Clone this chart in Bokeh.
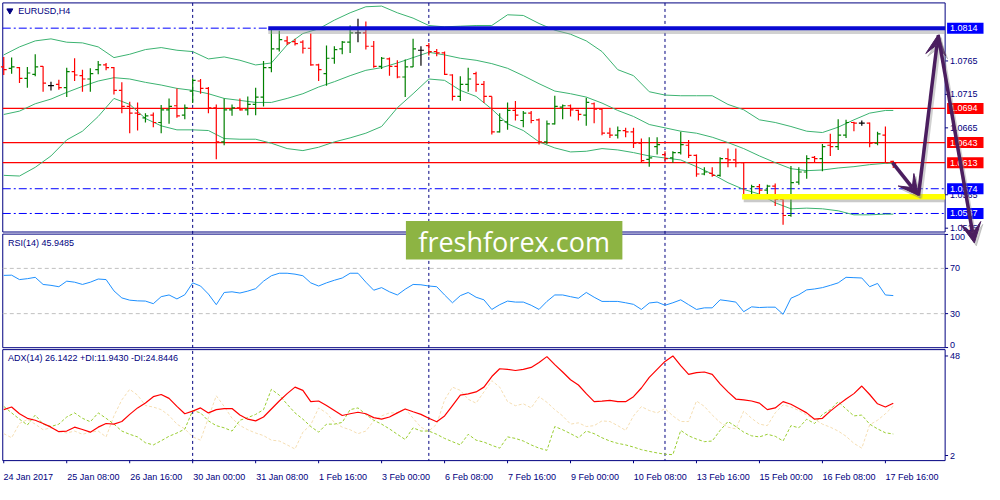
from bokeh.plotting import figure
from bokeh.models import Range1d, FixedTicker, ColumnDataSource, Arrow, VeeHead
from bokeh.core.properties import value
from bokeh.embed import file_html
from bokeh.resources import INLINE

# ---------------------------------------------------------------- data
SYMBOL = "EURUSD,H4"
WATERMARK = "freshforex.com"

time_labels = ["24 Jan 2017", "25 Jan 08:00", "26 Jan 16:00", "30 Jan 00:00",
               "31 Jan 08:00", "1 Feb 16:00", "3 Feb 00:00", "6 Feb 08:00",
               "7 Feb 16:00", "9 Feb 00:00", "10 Feb 08:00", "13 Feb 16:00",
               "15 Feb 00:00", "16 Feb 08:00", "17 Feb 16:00"]
time_label_bars = [0, 8, 16, 24, 32, 40, 48, 56, 64, 72, 80, 88, 96, 104, 112]
week_start_bars = [24, 54, 84]

bar_open = [
    1.0756, 1.0754, 1.0755, 1.0739, 1.0745, 1.0757, 1.0728, 1.0730, 1.0725, 1.0749,
    1.0743, 1.0738, 1.0752, 1.0759, 1.0755, 1.0721, 1.0697, 1.0687, 1.0680, 1.0684,
    1.0673, 1.0692, 1.0698, 1.0684, 1.0720, 1.0735, 1.0724, 1.0695, 1.0644, 1.0692,
    1.0695, 1.0692, 1.0700, 1.0711, 1.0755, 1.0783, 1.0795, 1.0794, 1.0793, 1.0784,
    1.0759, 1.0746, 1.0769, 1.0783, 1.0793, 1.0807, 1.0807, 1.0787, 1.0757, 1.0768,
    1.0757, 1.0741, 1.0756, 1.0781, 1.0788, 1.0779, 1.0777, 1.0744, 1.0712, 1.0730,
    1.0746, 1.0730, 1.0712, 1.0659, 1.0674, 1.0691, 1.0676, 1.0687, 1.0677, 1.0644,
    1.0671, 1.0696, 1.0698, 1.0691, 1.0684, 1.0701, 1.0693, 1.0657, 1.0654, 1.0661,
    1.0659, 1.0642, 1.0618, 1.0637, 1.0625, 1.0620, 1.0628, 1.0639, 1.0624, 1.0596,
    1.0597, 1.0594, 1.0619, 1.0617, 1.0613, 1.0565, 1.0577, 1.0572, 1.0578, 1.0558,
    1.0534, 1.0584, 1.0599, 1.0621, 1.0619, 1.0639, 1.0637, 1.0654, 1.0673, 1.0672,
    1.0672, 1.0642, 1.0654, 1.0615]
bar_high = [
    1.0771, 1.0770, 1.0756, 1.0756, 1.0775, 1.0757, 1.0734, 1.0737, 1.0755, 1.0769,
    1.0752, 1.0754, 1.0765, 1.0762, 1.0756, 1.0733, 1.0704, 1.0703, 1.0687, 1.0688,
    1.0699, 1.0709, 1.0724, 1.0700, 1.0739, 1.0738, 1.0726, 1.0700, 1.0709, 1.0700,
    1.0709, 1.0712, 1.0725, 1.0765, 1.0813, 1.0810, 1.0802, 1.0798, 1.0796, 1.0806,
    1.0761, 1.0788, 1.0787, 1.0795, 1.0818, 1.0828, 1.0824, 1.0795, 1.0771, 1.0770,
    1.0766, 1.0767, 1.0798, 1.0787, 1.0792, 1.0783, 1.0779, 1.0745, 1.0742, 1.0755,
    1.0749, 1.0735, 1.0712, 1.0687, 1.0703, 1.0705, 1.0690, 1.0690, 1.0679, 1.0676,
    1.0713, 1.0700, 1.0700, 1.0692, 1.0710, 1.0703, 1.0693, 1.0665, 1.0667, 1.0665,
    1.0665, 1.0649, 1.0651, 1.0651, 1.0630, 1.0630, 1.0659, 1.0647, 1.0625, 1.0606,
    1.0606, 1.0621, 1.0634, 1.0634, 1.0614, 1.0580, 1.0581, 1.0580, 1.0582, 1.0560,
    1.0608, 1.0606, 1.0624, 1.0623, 1.0641, 1.0656, 1.0678, 1.0677, 1.0674, 1.0676,
    1.0673, 1.0659, 1.0667, 1.0616]
bar_low = [
    1.0744, 1.0746, 1.0732, 1.0725, 1.0742, 1.0719, 1.0721, 1.0722, 1.0711, 1.0735,
    1.0719, 1.0719, 1.0745, 1.0751, 1.0715, 1.0687, 1.0657, 1.0661, 1.0673, 1.0666,
    1.0657, 1.0671, 1.0680, 1.0678, 1.0702, 1.0716, 1.0687, 1.0618, 1.0639, 1.0683,
    1.0691, 1.0684, 1.0684, 1.0697, 1.0748, 1.0779, 1.0789, 1.0788, 1.0776, 1.0758,
    1.0735, 1.0728, 1.0761, 1.0775, 1.0777, 1.0793, 1.0782, 1.0755, 1.0753, 1.0743,
    1.0739, 1.0711, 1.0756, 1.0758, 1.0773, 1.0772, 1.0744, 1.0706, 1.0705, 1.0719,
    1.0719, 1.0702, 1.0655, 1.0658, 1.0662, 1.0676, 1.0666, 1.0672, 1.0640, 1.0641,
    1.0670, 1.0678, 1.0682, 1.0676, 1.0668, 1.0672, 1.0654, 1.0650, 1.0649, 1.0651,
    1.0635, 1.0613, 1.0607, 1.0625, 1.0616, 1.0613, 1.0625, 1.0620, 1.0592, 1.0594,
    1.0592, 1.0592, 1.0606, 1.0606, 1.0560, 1.0562, 1.0563, 1.0565, 1.0548, 1.0520,
    1.0532, 1.0580, 1.0589, 1.0613, 1.0600, 1.0623, 1.0632, 1.0650, 1.0660, 1.0668,
    1.0636, 1.0639, 1.0613, 1.0605]
bar_close = [
    1.0752, 1.0756, 1.0739, 1.0747, 1.0756, 1.0732, 1.0728, 1.0725, 1.0749, 1.0744,
    1.0738, 1.0746, 1.0759, 1.0755, 1.0721, 1.0697, 1.0687, 1.0685, 1.0683, 1.0673,
    1.0692, 1.0697, 1.0683, 1.0695, 1.0736, 1.0724, 1.0695, 1.0644, 1.0692, 1.0695,
    1.0692, 1.0700, 1.0711, 1.0755, 1.0783, 1.0797, 1.0792, 1.0791, 1.0784, 1.0759,
    1.0752, 1.0769, 1.0782, 1.0793, 1.0807, 1.0807, 1.0787, 1.0757, 1.0769, 1.0757,
    1.0741, 1.0756, 1.0783, 1.0781, 1.0779, 1.0777, 1.0745, 1.0712, 1.0730, 1.0738,
    1.0730, 1.0712, 1.0659, 1.0676, 1.0691, 1.0684, 1.0687, 1.0676, 1.0644, 1.0671,
    1.0697, 1.0698, 1.0692, 1.0685, 1.0703, 1.0693, 1.0657, 1.0654, 1.0661, 1.0659,
    1.0642, 1.0616, 1.0620, 1.0640, 1.0619, 1.0628, 1.0640, 1.0624, 1.0596, 1.0599,
    1.0594, 1.0619, 1.0617, 1.0613, 1.0565, 1.0577, 1.0572, 1.0578, 1.0558, 1.0534,
    1.0583, 1.0599, 1.0619, 1.0619, 1.0637, 1.0637, 1.0654, 1.0673, 1.0672, 1.0672,
    1.0642, 1.0656, 1.0613, 1.0612]

# Bollinger bands, read every second bar
bb_bars = [0, 2, 4, 6, 8, 10, 12, 14, 16, 18, 20, 22, 24, 26, 28, 30, 32, 34, 36, 38,
           40, 42, 44, 46, 48, 50, 52, 54, 56, 58, 60, 62, 64, 66, 68, 70, 72, 74, 76, 78,
           80, 82, 84, 86, 88, 90, 92, 94, 96, 98, 100, 102, 104, 106, 108, 110, 112, 113]
bb_upper = [
    1.0774, 1.0786, 1.0795, 1.0798, 1.0793, 1.0792, 1.0786, 1.0770, 1.0775, 1.0782,
    1.0785, 1.0781, 1.0779, 1.0768, 1.0771, 1.0766, 1.0759, 1.0762, 1.0789, 1.0806,
    1.0813, 1.0826, 1.0837, 1.0846, 1.0847, 1.0837, 1.0829, 1.0818, 1.0816, 1.0817,
    1.0818, 1.0818, 1.0834, 1.0833, 1.0821, 1.0811, 1.0805, 1.0795, 1.0779, 1.0752,
    1.0743, 1.0719, 1.0714, 1.0713, 1.0713, 1.0713, 1.0700, 1.0692, 1.0677, 1.0673,
    1.0667, 1.0660, 1.0658, 1.0666, 1.0677, 1.0687, 1.0691, 1.0691]
bb_middle = [
    1.0685, 1.0690, 1.0701, 1.0708, 1.0718, 1.0727, 1.0735, 1.0740, 1.0738, 1.0733,
    1.0729, 1.0724, 1.0721, 1.0716, 1.0709, 1.0706, 1.0703, 1.0703, 1.0709, 1.0716,
    1.0726, 1.0734, 1.0743, 1.0751, 1.0755, 1.0762, 1.0770, 1.0778, 1.0774, 1.0769,
    1.0766, 1.0761, 1.0754, 1.0743, 1.0731, 1.0720, 1.0716, 1.0711, 1.0702, 1.0691,
    1.0682, 1.0670, 1.0665, 1.0660, 1.0657, 1.0651, 1.0643, 1.0634, 1.0623, 1.0613,
    1.0604, 1.0601, 1.0602, 1.0605, 1.0607, 1.0610, 1.0612, 1.0612]
bb_lower = [
    1.0594, 1.0593, 1.0606, 1.0623, 1.0647, 1.0660, 1.0682, 1.0709, 1.0700, 1.0679,
    1.0668, 1.0662, 1.0662, 1.0661, 1.0649, 1.0648, 1.0648, 1.0642, 1.0634, 1.0631,
    1.0636, 1.0644, 1.0650, 1.0657, 1.0667, 1.0695, 1.0716, 1.0738, 1.0736, 1.0721,
    1.0712, 1.0693, 1.0671, 1.0661, 1.0644, 1.0635, 1.0629, 1.0630, 1.0634, 1.0632,
    1.0628, 1.0623, 1.0620, 1.0617, 1.0607, 1.0596, 1.0583, 1.0573, 1.0566, 1.0553,
    1.0544, 1.0545, 1.0544, 1.0541, 1.0535, 1.0535, 1.0536, 1.0536]

rsi_values = [
    63.8, 64.0, 60.1, 60.9, 62.1, 55.8, 55.0, 53.8, 58.7, 57.8,
    55.8, 57.8, 60.6, 60.1, 50.1, 43.9, 41.9, 41.3, 41.1, 38.8,
    45.0, 46.5, 43.0, 46.7, 57.2, 54.4, 47.3, 37.9, 48.7, 49.3,
    48.2, 49.9, 52.1, 58.7, 63.5, 65.7, 65.7, 64.9, 63.5, 57.2,
    54.4, 57.2, 59.5, 61.5, 65.7, 65.7, 57.8, 50.7, 53.0, 49.3,
    46.5, 51.6, 55.8, 55.5, 54.4, 53.8, 46.5, 39.6, 45.9, 48.7,
    44.5, 42.2, 33.7, 37.9, 41.1, 40.2, 40.2, 37.4, 33.7, 40.8,
    46.5, 46.5, 45.0, 43.6, 48.7, 44.5, 40.8, 40.8, 40.8, 39.6,
    38.2, 33.7, 39.4, 40.2, 37.4, 39.6, 42.2, 37.9, 33.7, 35.1,
    35.1, 42.2, 41.3, 40.2, 31.7, 36.0, 35.4, 35.7, 35.7, 29.4,
    43.6, 46.7, 51.0, 51.8, 53.0, 55.0, 57.2, 62.1, 61.8, 61.5,
    53.8, 56.7, 46.5, 45.9485]
rsi_period = 14

adx_values = [
    23.2, 24.4, 21.3, 19.2, 18.3, 16.8, 15.1, 13.0, 13.3, 15.1,
    14.0, 12.8, 15.1, 16.8, 16.5, 17.7, 21.0, 24.0, 26.3, 29.2,
    30.2, 28.4, 24.7, 21.3, 22.5, 24.0, 21.7, 23.2, 23.7, 23.7,
    20.7, 18.8, 18.0, 19.8, 23.5, 27.2, 30.6, 33.6, 32.1, 26.9,
    27.2, 25.1, 22.8, 20.5, 21.3, 22.0, 21.3, 19.5, 18.8, 19.8,
    21.7, 23.5, 22.2, 21.0, 19.2, 17.6, 20.3, 25.1, 29.9, 30.5,
    31.4, 33.6, 38.5, 42.1, 41.8, 41.3, 41.8, 42.7, 45.0, 47.7,
    44.0, 40.6, 37.0, 34.6, 30.6, 26.9, 27.1, 27.5, 26.9, 26.9,
    29.2, 33.2, 38.1, 41.8, 45.5, 48.0, 43.5, 39.5, 40.3, 40.6,
    39.5, 35.1, 31.4, 28.1, 27.7, 27.2, 26.2, 23.2, 24.0, 26.9,
    25.7, 23.7, 21.7, 18.8, 19.2, 22.5, 25.4, 28.1, 30.6, 34.1,
    30.2, 25.9, 24.4, 26.1422]
plus_di_values = [
    24.7, 21.7, 18.8, 16.1, 20.7, 16.5, 15.4, 16.5, 19.8, 21.7,
    19.2, 17.6, 21.7, 19.2, 16.5, 13.3, 11.8, 10.6, 7.9, 6.9,
    8.8, 10.9, 12.4, 14.2, 22.8, 21.7, 18.0, 15.8, 14.8, 13.3,
    18.3, 19.5, 21.0, 23.2, 32.6, 29.9, 25.7, 21.7, 18.8, 15.4,
    12.8, 16.5, 16.5, 17.3, 23.2, 24.0, 21.0, 18.3, 16.5, 14.3,
    11.8, 9.4, 14.8, 13.3, 13.3, 11.8, 9.9, 8.4, 6.9, 11.8,
    9.1, 8.2, 6.7, 5.4, 10.6, 9.9, 8.7, 6.9, 5.4, 4.4,
    15.4, 13.9, 12.1, 10.2, 13.3, 12.1, 10.2, 8.7, 7.6, 6.9,
    5.9, 4.7, 3.9, 3.2, 2.6, 2.4, 13.6, 11.1, 9.6, 8.4,
    8.7, 13.6, 17.7, 15.4, 12.8, 11.1, 10.6, 11.8, 10.9, 8.7,
    15.8, 14.8, 18.8, 16.8, 21.0, 23.2, 26.9, 23.5, 20.3, 20.7,
    16.5, 14.3, 12.5, 11.9430]
minus_di_values = [
    12.1, 10.2, 16.8, 18.6, 16.5, 13.9, 14.8, 13.3, 12.4, 13.3,
    11.8, 12.8, 13.3, 10.6, 20.3, 27.7, 32.6, 29.9, 25.1, 24.4,
    23.2, 20.5, 16.5, 14.3, 10.6, 9.1, 19.5, 29.6, 24.7, 19.2,
    15.9, 13.9, 12.4, 11.2, 9.1, 8.7, 6.9, 5.0, 12.8, 16.2,
    24.0, 21.7, 17.3, 15.1, 13.9, 12.1, 13.3, 18.0, 20.3, 21.7,
    21.7, 23.7, 19.2, 15.1, 13.3, 16.5, 27.7, 33.6, 32.1, 28.0,
    26.2, 31.4, 36.6, 33.6, 26.9, 25.0, 25.9, 24.0, 29.2, 26.6,
    23.2, 20.3, 16.5, 17.1, 15.4, 15.8, 18.0, 17.7, 15.8, 13.6,
    20.3, 24.6, 22.8, 21.7, 23.7, 20.3, 17.7, 17.7, 27.2, 24.7,
    20.7, 17.3, 15.1, 14.3, 22.5, 19.2, 16.5, 15.8, 21.7, 25.4,
    24.4, 22.8, 20.7, 18.8, 16.5, 15.1, 13.3, 10.9, 7.6, 5.4,
    16.2, 18.3, 21.3, 24.8446]
adx_period = 14

# price scale and analysis levels
price_ticks = [1.0765, 1.0715, 1.0665, 1.0565, 1.0515]
resistance_level = 1.0814
blue_levels = [1.0814, 1.0574, 1.0537]
red_levels = [1.0694, 1.0643, 1.0613]
target_zone = [1.0558, 1.0566]          # bottom, top
target_zone_start_bar = 93.8
resistance_start_bar = 33.6
arrow_bars = [112.9, 116.2, 118.7, 123.3]
arrow_prices = [1.0613, 1.0564, 1.0804, 1.0493]

rsi_ticks = [100, 70, 30, 0]
rsi_levels = [70, 30]
adx_ticks = [48, 2]

# ---------------------------------------------------------------- layout / style
W, H = 984, 484
REF_W, REF_H = 1000.0, 481.0          # design grid (px of the MT4 screen)
BAR_X0, BAR_DX = 3.3, 8.0             # design x of bar 0, design px per bar
P_REF, P_REF_Y, P_PX = 1.0665, 132.3, 6950.0
RSI_Y100, RSI_PX = 243.05, 1.175
ADX_Y48, ADX_PX = 369.3, 2.2478
PANEL_L, PANEL_R = 2.3, 960.0
PANELS = [(2.5, 240.5), (242.7, 360.7), (362.7, 478.0)]

NAVY = "#000080"
FONT = value("Liberation Sans")
FS = "9px"
GREEN_BAR, RED_BAR, DOJI = "#008000", "#ff0000", "#000000"
BB_COLOR = "#3cb371"
PURPLE = "#4b1e5f"

p = figure(width=W, height=H, output_backend="svg", toolbar_location=None,
           x_range=Range1d(-BAR_X0 / BAR_DX, (REF_W - BAR_X0) / BAR_DX),
           y_range=Range1d(P_REF - (REF_H - P_REF_Y) / P_PX, P_REF + P_REF_Y / P_PX),
           x_axis_location="below", y_axis_location=None,
           min_border_left=0, min_border_right=0, min_border_top=0, min_border_bottom=16)
p.extra_x_ranges = {"px": Range1d(0, REF_W)}
p.extra_y_ranges = {
    "px": Range1d(REF_H, 0),
    "rsi": Range1d(100 - (REF_H - RSI_Y100) / RSI_PX, 100 + RSI_Y100 / RSI_PX),
    "adx": Range1d(48 - (REF_H - ADX_Y48) / ADX_PX, 48 + ADX_Y48 / ADX_PX),
}
p.grid.visible = False
p.outline_line_color = None
p.background_fill_color = "white"
p.border_fill_color = "white"

# bottom time axis (labels drawn left-aligned from their bar, as in MT4)
centers = [round(b + (len(t) * 4.45 / 2 + 0.4) / BAR_DX, 3) for b, t in zip(time_label_bars, time_labels)]
ax = p.xaxis[0]
ax.ticker = FixedTicker(ticks=centers, minor_ticks=[])
ax.major_label_overrides = {c: t for c, t in zip(centers, time_labels)}
ax.axis_line_color = None
ax.major_tick_line_color = None
ax.minor_tick_line_color = None
ax.major_label_standoff = 2
ax.major_label_text_font = "Liberation Sans"
ax.major_label_text_font_size = FS
ax.major_label_text_color = NAVY

txt = dict(text_font=FONT, text_font_size=FS)

# panel frames
p.quad(left=[PANEL_L] * 3, right=[PANEL_R] * 3, top=[a for a, b in PANELS], bottom=[b for a, b in PANELS],
       fill_color=None, line_color=NAVY, line_width=1, x_range_name="px", y_range_name="px")
# time ticks below last panel
p.segment(x0=time_label_bars, x1=time_label_bars, y0=[478.0] * len(time_label_bars),
          y1=[481.0] * len(time_label_bars), line_color=NAVY, line_width=1, y_range_name="px")
# week separators
p.segment(x0=week_start_bars, x1=week_start_bars, y0=[2.5] * 3, y1=[478.0] * 3,
          line_color=NAVY, line_width=1, line_dash="3 3", y_range_name="px")

# --- main panel levels
p.segment(x0=[PANEL_L] * 3, x1=[PANEL_R] * 3, y0=red_levels, y1=red_levels,
          line_color="#ff0000", line_width=1.2, x_range_name="px")
p.segment(x0=[PANEL_L] * 3, x1=[PANEL_R] * 3, y0=blue_levels, y1=blue_levels,
          line_color="#0000ff", line_width=1, line_dash="8 3 2 3", x_range_name="px")

# Bollinger bands
for band in (bb_upper, bb_middle, bb_lower):
    p.line(bb_bars, band, line_color=BB_COLOR, line_width=1)

# OHLC bars
n = len(bar_close)
idx = list(range(n))
colors = [GREEN_BAR if c > o else (RED_BAR if c < o else DOJI) for o, c in zip(bar_open, bar_close)]
src = ColumnDataSource(dict(x=idx, xl=[i - 0.375 for i in idx], xr=[i + 0.375 for i in idx],
                            o=bar_open, h=bar_high, l=bar_low, c=bar_close, col=colors))
p.segment(x0="x", x1="x", y0="l", y1="h", line_color="col", line_width=1.2, source=src)
p.segment(x0="xl", x1="x", y0="o", y1="o", line_color="col", line_width=1.2, source=src)
p.segment(x0="x", x1="xr", y0="c", y1="c", line_color="col", line_width=1.2, source=src)

# thick resistance line with shadow
sh = 3.0 / P_PX
end_bar = (PANEL_R - BAR_X0) / BAR_DX
p.segment(x0=[resistance_start_bar], x1=[end_bar], y0=[resistance_level - sh], y1=[resistance_level - sh],
          line_color="#9a9a9a", line_width=6, line_alpha=0.45)
p.segment(x0=[resistance_start_bar], x1=[end_bar], y0=[resistance_level], y1=[resistance_level],
          line_color="#0a0ad2", line_width=4)

# target zone with shadow
p.quad(left=[target_zone_start_bar + 0.2], right=[end_bar], bottom=[target_zone[0] - sh], top=[target_zone[1] - sh],
       fill_color="#8a8a8a", fill_alpha=0.45, line_color=None)
p.quad(left=[target_zone_start_bar], right=[end_bar], bottom=[target_zone[0]], top=[target_zone[1]],
       fill_color="#ffff00", line_color=None)

# --- RSI panel
p.segment(x0=[PANEL_L] * 2, x1=[PANEL_R] * 2, y0=rsi_levels, y1=rsi_levels,
          line_color="#c0c0c0", line_width=1, line_dash="4 3", x_range_name="px", y_range_name="rsi")
p.line(idx, rsi_values, line_color="#1e90ff", line_width=1, y_range_name="rsi")

# --- ADX panel
p.line(idx, minus_di_values, line_color="#f5deb3", line_width=1, line_dash="3 2", y_range_name="adx")
p.line(idx, plus_di_values, line_color="#9acd32", line_width=1, line_dash="3 2", y_range_name="adx")
p.line(idx, adx_values, line_color="#ff0000", line_width=1.2, y_range_name="adx")

# watermark
p.quad(left=[412], right=[632], top=[229], bottom=[269], fill_color="#8db443", line_color=None,
       x_range_name="px", y_range_name="px")
p.text(x=[522], y=[250], text=[WATERMARK], text_color="white", text_font=value("Open Sans"),
       text_font_size="27px", text_align="center", text_baseline="middle",
       x_range_name="px", y_range_name="px")

# --- right scales
LX = 965.0
p.segment(x0=[PANEL_R] * len(price_ticks), x1=[PANEL_R + 3] * len(price_ticks), y0=price_ticks, y1=price_ticks,
          line_color=NAVY, x_range_name="px")
p.text(x=[LX] * len(price_ticks), y=price_ticks, text=[f"{v:.4f}" for v in price_ticks],
       text_color=NAVY, text_align="left", text_baseline="middle", x_range_name="px", **txt)
hl_prices = blue_levels + red_levels
hl_colors = ["#0000ff"] * len(blue_levels) + ["#ff0000"] * len(red_levels)
p.rect(x=[980.5] * len(hl_prices), y=hl_prices, width=[37] * len(hl_prices), height=11, height_units="screen",
       fill_color=hl_colors, line_color=None, x_range_name="px")
p.text(x=[LX] * len(hl_prices), y=hl_prices, text=[f"{v:.4f}" for v in hl_prices],
       text_color="white", text_align="left", text_baseline="middle", x_range_name="px", **txt)

p.segment(x0=[PANEL_R] * 4, x1=[PANEL_R + 3] * 4, y0=rsi_ticks, y1=rsi_ticks, line_color=NAVY,
          x_range_name="px", y_range_name="rsi")
for v, base in zip(rsi_ticks, ["top", "middle", "middle", "bottom"]):
    p.text(x=[LX], y=[v], text=[str(v)], text_color=NAVY, text_align="left", text_baseline=base,
           x_range_name="px", y_range_name="rsi", **txt)
p.segment(x0=[PANEL_R] * 2, x1=[PANEL_R + 3] * 2, y0=adx_ticks, y1=adx_ticks, line_color=NAVY,
          x_range_name="px", y_range_name="adx")
p.text(x=[LX] * 2, y=adx_ticks, text=[str(v) for v in adx_ticks], text_color=NAVY, text_align="left",
       text_baseline="middle", x_range_name="px", y_range_name="adx", **txt)

# --- titles
p.scatter(x=[9.5], y=[10.5], marker="inverted_triangle", size=6, color=NAVY,
          x_range_name="px", y_range_name="px")
p.text(x=[18], y=[11], text=[SYMBOL], text_color=NAVY, text_baseline="middle",
       x_range_name="px", y_range_name="px", **txt)
p.text(x=[7.5], y=[251.5], text=[f"RSI({rsi_period}) {rsi_values[-1]:.4f}"], text_color=NAVY,
       text_baseline="middle", x_range_name="px", y_range_name="px", **txt)
p.text(x=[7.5], y=[371.7],
       text=[f"ADX({adx_period}) {adx_values[-1]:.4f} +DI:{plus_di_values[-1]:.4f} -DI:{minus_di_values[-1]:.4f}"],
       text_color=NAVY, text_baseline="middle", x_range_name="px", y_range_name="px", **txt)

# --- forecast arrows (shadow first)
for k in range(len(arrow_bars) - 1):
    for dx, dy, col, alpha in ((0.25, -3.0 / P_PX, "#8a8a8a", 0.4), (0.0, 0.0, PURPLE, 1.0)):
        p.add_layout(Arrow(
            end=VeeHead(size=20, fill_color=col, fill_alpha=alpha, line_color=col, line_alpha=alpha, line_width=1),
            x_start=arrow_bars[k] + dx, y_start=arrow_prices[k] + dy,
            x_end=arrow_bars[k + 1] + dx, y_end=arrow_prices[k + 1] + dy,
            line_color=col, line_alpha=alpha, line_width=3.5))

open("out.html", "w").write(file_html(p, INLINE))
